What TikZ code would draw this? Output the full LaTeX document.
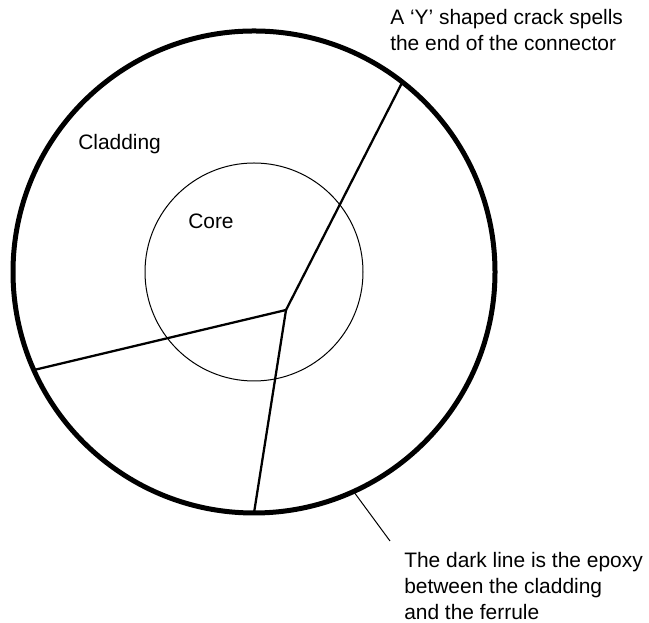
\documentclass[tikz,border=0pt]{standalone}
\usepackage{fontspec}
\setmainfont{Liberation Sans}
\usepackage{tikz}
\usetikzlibrary{calc}
\newcommand{\cladradius}{241}
\newcommand{\coreradius}{109}
\tikzset{crack/.style={line width=1.7pt}, lbl/.style={anchor=base west, inner sep=0pt, align=left, font=\fontsize{15.7}{19.5}\selectfont}}

\begin{document}
\begin{tikzpicture}[x=0.75pt,y=0.75pt]
\useasboundingbox (0,0) rectangle (649,623);

\coordinate (c) at (254,351);
\draw[line width=3.75pt] (c) circle (\cladradius);
\draw[line width=0.75pt] (c) circle (\coreradius);

\coordinate (v) at (286,313);
\coordinate (1) at ($(c)+(52:\cladradius)$);
\coordinate (2) at ($(c)+(204:\cladradius)$);
\coordinate (3) at ($(c)+(270:\cladradius)$);
\draw[crack] (1) -- (v) -- (2);
\draw[crack] (v) -- (3);

\node[lbl] (cl) at (78,473) {Cladding};
\node[lbl] (co) at (188,394) {Core};
\node[lbl] (tl) at (390,572) {A `Y' shaped crack spells\\the end of the connector};
\node[lbl] (bl) at (404,3) {The dark line is the epoxy\\between the cladding\\and the ferrule};

\coordinate (p) at ($(c)+(-65.5:243)$);
\coordinate (tip) at (390,82);
\draw[line width=0.75pt] (p) -- (tip);

\end{tikzpicture}
\end{document}
